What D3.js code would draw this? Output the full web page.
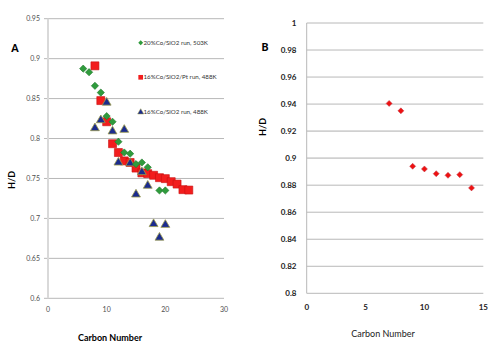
<!DOCTYPE html>
<html><head><meta charset="utf-8">
<script src="https://cdn.jsdelivr.net/npm/d3@7"></script>
<style>body{margin:0;background:#fff}svg{display:block}text{font-family:Lato,"Liberation Sans",sans-serif}</style>
</head><body>
<svg id="c" width="500" height="347"></svg>
<script>
// Panel A data
const carbonA_green = [6,7,8,9,10,11,12,13,14,15,16,17,19,20];
const hdA_green = [0.8875,0.883,0.866,0.8575,0.828,0.821,0.796,0.7825,0.781,0.768,0.770,0.764,0.735,0.735];
const carbonA_red = [8,9,10,11,12,13,14,15,16,17,18,19,20,21,22,23,24];
const hdA_red = [0.891,0.8475,0.821,0.7935,0.7825,0.772,0.770,0.763,0.757,0.756,0.754,0.751,0.7498,0.746,0.743,0.736,0.7355];
const carbonA_blue = [8,9,10,11,12,13,14,15,16,17,18,19,20];
const hdA_blue = [0.814,0.824,0.846,0.810,0.771,0.812,0.770,0.731,0.759,0.742,0.694,0.677,0.693];
const legendA = ["20%Co/SiO2 run, 503K","16%Co/SiO2/Pt run, 488K","16%Co/SiO2 run, 488K"];
const yTicksA = [0.6,0.65,0.7,0.75,0.8,0.85,0.9,0.95];
const xTicksA = [0,10,20,30];
// Panel B data
const carbonB = [7,8,9,10,11,12,13,14];
const hdB = [0.9405,0.935,0.894,0.892,0.8885,0.8873,0.8878,0.878];
const yTicksB = [0.8,0.82,0.84,0.86,0.88,0.9,0.92,0.94,0.96,0.98,1];
const xTicksB = [0,5,10,15];

const svg = d3.select("#c");

// ---------- Panel A ----------
const xA = d3.scaleLinear().domain([0,30]).range([48,224]);
const yA = d3.scaleLinear().domain([0.6,0.95]).range([298.3,18.7]);
const gA = svg.append("g");
yTicksA.forEach(t=>{
  gA.append("line").attr("x1",44).attr("x2",224).attr("y1",yA(t)).attr("y2",yA(t))
    .attr("stroke","#b8b8b8").attr("stroke-width",1);
  gA.append("text").attr("x",40).attr("y",yA(t)).attr("dy","0.35em").attr("text-anchor","end")
    .attr("font-size",7).attr("fill","#505050").text(d3.format("")(t));
});
gA.append("line").attr("x1",48).attr("x2",48).attr("y1",18.7).attr("y2",298.3)
  .attr("stroke","#d9d9d9").attr("stroke-width",2);
xTicksA.forEach(t=>{
  gA.append("text").attr("x",xA(t)).attr("y",310).attr("dy","0.35em").attr("text-anchor","middle")
    .attr("font-size",7).attr("fill","#505050").text(t);
});
gA.append("text").attr("x",15).attr("y",48).attr("dy","0.35em").attr("text-anchor","middle")
  .attr("font-size",10.5).attr("font-weight","900").text("A");
gA.append("text").attr("transform","translate(12,180) rotate(-90)").attr("text-anchor","middle")
  .attr("dy","0.35em").attr("font-size",9).attr("font-weight","bold").text("H/D");
gA.append("text").attr("x",110).attr("y",338).attr("dy","0.35em").attr("text-anchor","middle")
  .attr("font-size",9).attr("font-weight","bold").text("Carbon Number");

const sq = d3.symbol().type(d3.symbolSquare).size(64);
const dia = d3.symbol().type(d3.symbolSquare).size(26);
const tri = d3.symbol().type(d3.symbolTriangle).size(34);

function drawRed(g,x,y){g.append("path").attr("d",sq).attr("transform",`translate(${x},${y})`)
  .attr("fill","#f21d1d").attr("stroke","#c81010").attr("stroke-width",0.6);}
function drawGreen(g,x,y){g.append("path").attr("d",dia).attr("transform",`translate(${x},${y}) rotate(45)`)
  .attr("fill","#2f9b3c").attr("stroke","#1f7a2a").attr("stroke-width",0.6);}
function drawBlue(g,x,y){g.append("path").attr("d",tri).attr("transform",`translate(${x},${y+0.8})`)
  .attr("fill","#1b2b8e").attr("stroke","#9a9a4a").attr("stroke-width",0.8);}

carbonA_red.forEach((c,i)=>drawRed(gA,xA(c),yA(hdA_red[i])));
carbonA_blue.forEach((c,i)=>drawBlue(gA,xA(c),yA(hdA_blue[i])));
carbonA_green.forEach((c,i)=>drawGreen(gA,xA(c),yA(hdA_green[i])));

// legend
const legY = [42.7,77.3,111.7];
const leg = gA.append("g");
leg.append("path").attr("d",d3.symbol().type(d3.symbolSquare).size(12)).attr("transform",`translate(140.7,${legY[0]}) rotate(45)`).attr("fill","#2f9b3c");
leg.append("path").attr("d",d3.symbol().type(d3.symbolSquare).size(22)).attr("transform",`translate(140.7,${legY[1]})`).attr("fill","#f21d1d");
leg.append("path").attr("d",d3.symbol().type(d3.symbolTriangle).size(16)).attr("transform",`translate(140.7,${legY[2]+0.5})`).attr("fill","#1b2b8e").attr("stroke","#9a9a4a").attr("stroke-width",0.5);
legendA.forEach((s,i)=>{
  leg.append("text").attr("x",143.5).attr("y",legY[i]).attr("dy","0.35em").attr("font-size",6.2)
    .attr("fill","#333").text(s);
});

// ---------- Panel B ----------
const xB = d3.scaleLinear().domain([0,15]).range([306.7,483.3]);
const yB = d3.scaleLinear().domain([0.8,1]).range([293.3,23]);
const gB = svg.append("g");
yTicksB.forEach(t=>{
  const w = (Math.abs(t-0.9)<1e-9||Math.abs(t-0.92)<1e-9)?1.6:1;
  const col = (Math.abs(t-0.9)<1e-9||Math.abs(t-0.92)<1e-9)?"#d0d0d0":"#b8b8b8";
  gB.append("line").attr("x1",306.7).attr("x2",483.3).attr("y1",yB(t)).attr("y2",yB(t))
    .attr("stroke",col).attr("stroke-width",w);
  gB.append("text").attr("x",296.5).attr("y",yB(t)).attr("dy","0.35em").attr("text-anchor","end")
    .attr("font-size",8).attr("font-weight","bold").attr("fill","#222").text(d3.format("")(+t.toFixed(2)));
});
gB.append("line").attr("x1",306.7).attr("x2",306.7).attr("y1",23).attr("y2",293.3)
  .attr("stroke","#b8b8b8").attr("stroke-width",1);
xTicksB.forEach(t=>{
  gB.append("text").attr("x",xB(t)).attr("y",307).attr("dy","0.35em").attr("text-anchor","middle")
    .attr("font-size",8).attr("font-weight","bold").attr("fill","#222").text(t);
});
gB.append("text").attr("x",265).attr("y",47.5).attr("dy","0.35em").attr("text-anchor","middle")
  .attr("font-size",10.5).attr("font-weight","900").text("B");
gB.append("text").attr("transform","translate(263,127) rotate(-90)").attr("text-anchor","middle")
  .attr("dy","0.35em").attr("font-size",9).attr("font-weight","bold").text("H/D");
gB.append("text").attr("x",383).attr("y",334).attr("dy","0.35em").attr("text-anchor","middle")
  .attr("font-size",9).attr("fill","#222").text("Carbon Number");
const diaB = d3.symbol().type(d3.symbolSquare).size(18);
carbonB.forEach((c,i)=>{
  gB.append("path").attr("d",diaB).attr("transform",`translate(${xB(c)},${yB(hdB[i])}) rotate(45)`)
    .attr("fill","#ee1111").attr("stroke","#c04050").attr("stroke-width",0.5);
});
</script>
</body></html>
